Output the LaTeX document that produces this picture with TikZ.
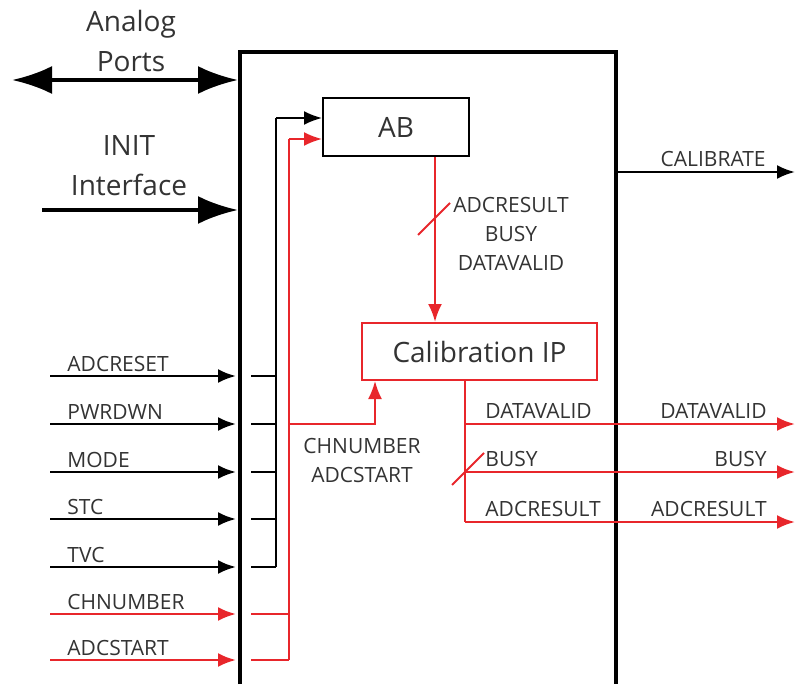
\documentclass[tikz,border=0pt]{standalone}
\usepackage{fontspec}
\setmainfont{Open Sans}
\usetikzlibrary{arrows.meta, calc, positioning}
\definecolor{sigred}{HTML}{E8262B}
\definecolor{txtgray}{HTML}{333333}
\tikzset{
  % blocchi interni
  blk/.style={draw=black, line width=1pt, minimum height=29pt, text=txtgray,
    font=\fontsize{14}{16}\selectfont},
  redblk/.style={blk, draw=sigred},
  % contorno del modulo
  modframe/.style={line width=2pt},
  % porte grosse
  port/.style={line width=2pt, -{Latex[length=20pt, width=14pt]}},
  dport/.style={line width=2pt, {Latex[length=20pt, width=14pt]}-{Latex[length=20pt, width=14pt]}},
  % segnali
  sig/.style={line width=1pt},
  sigin/.style={line width=1.3pt, -{Latex[length=9pt, width=7pt]}},
  sigarrow/.style={sig, -{Latex[length=9pt, width=7pt]}},
  slash/.style={line width=1pt, sigred},
  % etichette
  lbl/.style={font=\fontsize{10.5}{14.5}\selectfont, text=txtgray, inner sep=0pt, align=center},
  biglbl/.style={font=\fontsize{14}{20}\selectfont, text=txtgray, inner sep=0pt, align=center},
}
\begin{document}
\begin{tikzpicture}[x=0.5pt, y=-0.5pt]
  \useasboundingbox (0,0) rectangle (795,684);
  % modulo
  \coordinate (fbl) at (240,684);
  \coordinate (ftl) at (240,52);
  \coordinate (ftr) at (616,52);
  \coordinate (fbr) at (616,684);
  \draw[modframe] (fbl) -- (ftl) -- (ftr) -- (fbr);
  % porte analogiche e INIT
  \node[biglbl] (analog) at (131,41) {Analog\\Ports};
  \coordinate (anl) at (12,80);
  \coordinate (anr) at (238,80);
  \draw[dport] (anl) -- (anr);
  \node[biglbl] (init) at (129,166) {INIT\\Interface};
  \coordinate (initl) at (42,210);
  \coordinate (initr) at (238,210);
  \draw[port] (initl) -- (initr);
  % blocchi
  \node[blk, minimum width=73pt] (ab) at (396,127.5) {AB};
  \node[redblk, minimum width=117.5pt, minimum height=28.5pt] (cal) at (479.5,351.5) {Calibration IP};
  % AB -> Calibration IP
  \coordinate (busa) at (435,157);
  \draw[sigarrow, sigred, line width=1.2pt] (busa) -- (busa |- cal.north);
  \draw[slash] (418,235) -- (450,203);
  \node[lbl] (buslbl) at (511,234) {ADCRESULT\\BUSY\\DATAVALID};
  % ingressi
  \foreach \y/\n/\col [count=\i] in {376/ADCRESET/black, 424/PWRDWN/black, 472/MODE/black,
      519/STC/black, 567/TVC/black, 614/CHNUMBER/sigred, 660/ADCSTART/sigred} {
    \coordinate (src\i) at (50,\y);
    \coordinate (dst\i) at (236,\y);
    \draw[sigin, \col] (src\i) -- (dst\i);
    \node[lbl, anchor=base west] (lbl\i) at (67,\y-5) {\n};
  }
  \coordinate (bbus) at (276,118);
  \coordinate (rbus) at (289,139);
  \foreach \i in {1,...,5}
    \draw[sig] ($(dst\i)+(15,0)$) -- (dst\i -| bbus);
  \foreach \i in {6,7}
    \draw[sig, sigred] ($(dst\i)+(15,0)$) -- (dst\i -| rbus);
  \draw[sig] (bbus) -- (bbus |- dst5);
  \draw[sig, sigred] (rbus) -- (rbus |- dst7);
  \draw[sigarrow] (bbus) -- (bbus -| ab.west);
  \draw[sigarrow, sigred] (rbus) -- (rbus -| ab.west);
  % CHNUMBER/ADCSTART -> Calibration IP
  \coordinate (cin) at (375,424);
  \draw[sigarrow, sigred] (rbus |- cin) -- (cin) -- (cin |- cal.south);
  \node[lbl] (cinlbl) at (362,460) {CHNUMBER\\ADCSTART};
  % uscite
  \coordinate (cout) at (465,380);
  \foreach \y/\n [count=\j] in {424/DATAVALID, 472/BUSY, 522/ADCRESULT} {
    \coordinate (out\j) at (795,\y);
    \draw[sigin, sigred] (cout |- out\j) -- (out\j);
    \node[lbl, anchor=base west] (outl\j) at (485,\y-6) {\n};
    \node[lbl, anchor=base east] (outr\j) at (767,\y-6) {\n};
  }
  \draw[sig, sigred] (cout) -- (cout |- out3);
  \draw[slash] (452,485) -- (484,453);
  % CALIBRATE
  \coordinate (calo) at (617,172);
  \coordinate (cale) at (795,172);
  \draw[sigin] (calo) -- (cale);
  \node[lbl, anchor=base east] (callbl) at (766,166) {CALIBRATE};
\end{tikzpicture}
\end{document}
